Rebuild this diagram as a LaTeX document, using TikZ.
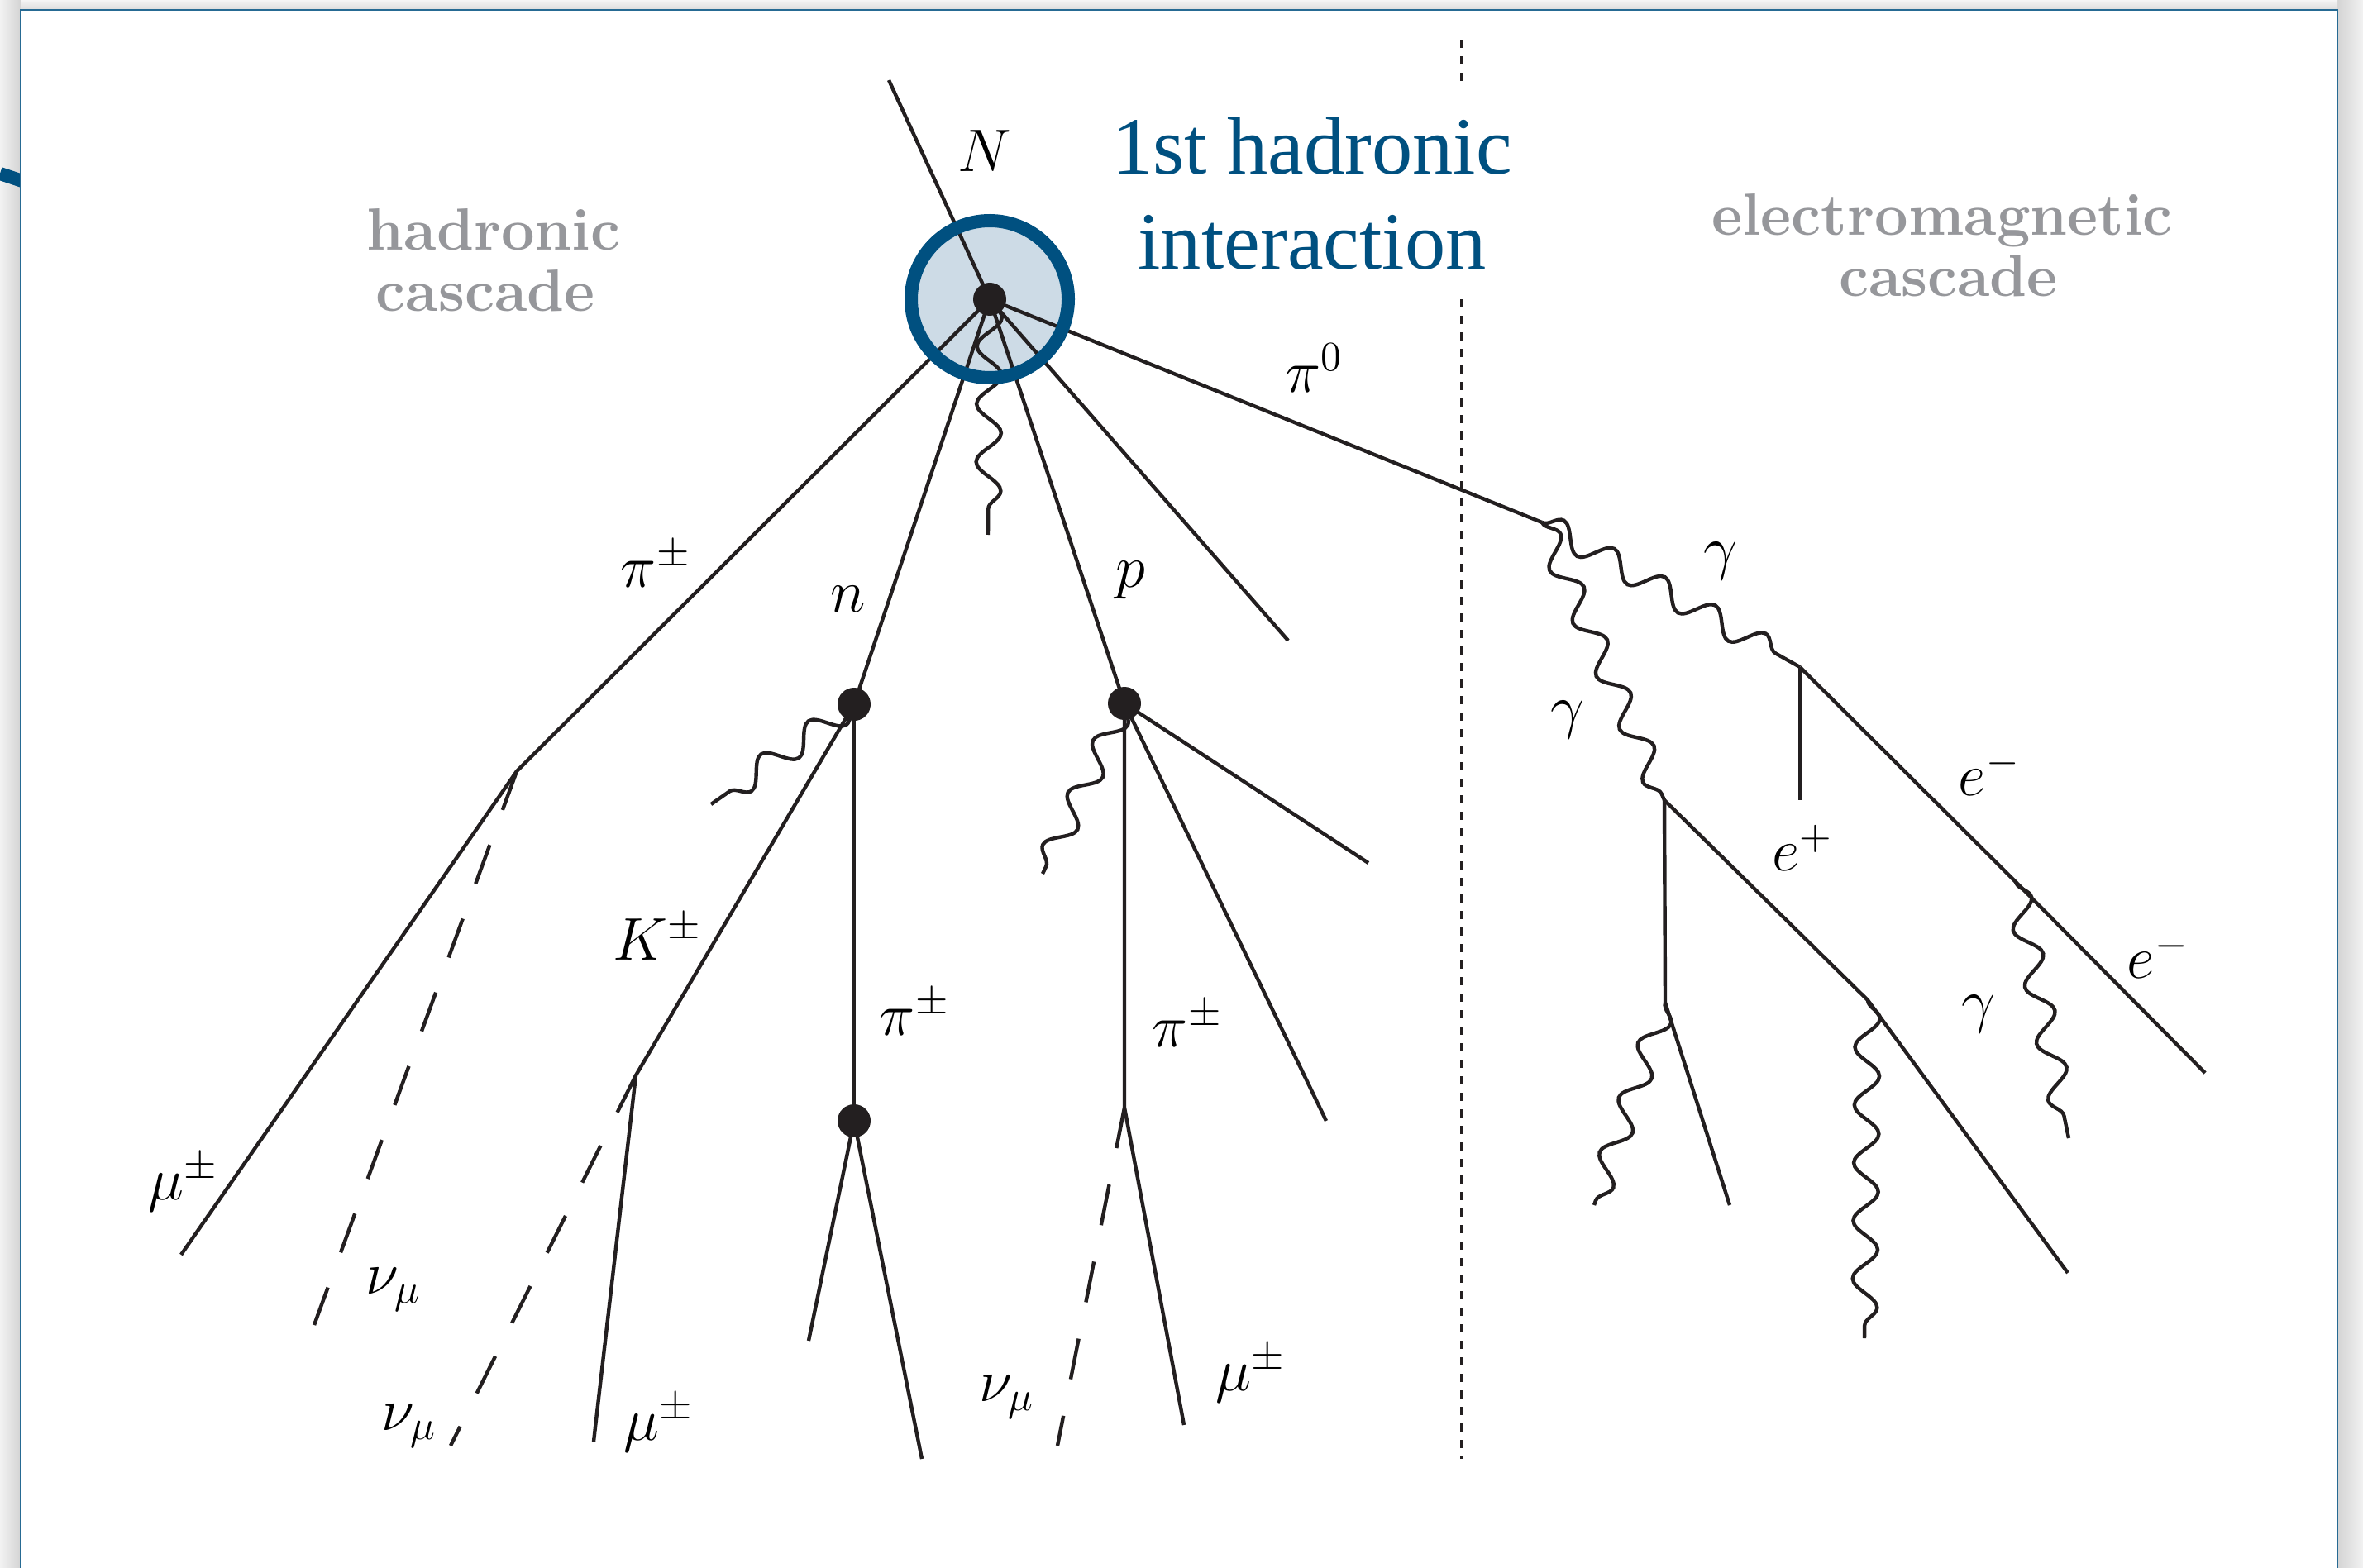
\documentclass[tikz,border=0pt]{standalone}
\usepackage{fontspec}
\newfontfamily\headfont{Liberation Serif}
\usepackage{tikz}
\usetikzlibrary{decorations.pathmorphing, positioning}
\definecolor{ifblue}{RGB}{0,80,128}
\definecolor{iflight}{RGB}{205,219,230}
\definecolor{ifgray}{RGB}{150,151,155}
\definecolor{ifink}{RGB}{35,31,32}
\tikzset{
  track/.style={draw=ifink, line width=1.25pt},
  nutrack/.style={track, dash pattern=on 0.5cm off 0.45cm},
  photon/.style={track, decorate, decoration={snake, segment length=0.7cm, amplitude=0.15cm}},
  blob/.style={circle, fill=ifink, inner sep=0pt, minimum size=0.4cm},
  lbl/.style={font=\fontsize{21}{25}\selectfont, inner sep=1pt},
  region/.style={align=center, text=ifgray, font=\fontsize{20.5}{21}\selectfont\bfseries},
  head/.style={align=center, text=ifblue, font=\headfont\fontsize{28}{32.7}\selectfont},
  divider/.style={draw=ifink, line width=1.1pt, dash pattern=on 0.1cm off 0.1cm},
}
\begin{document}
\begin{tikzpicture}
  % page, shadow and frame
  \useasboundingbox (0,0) rectangle (28.58,-18.97);
  \shade[left color=black!5, right color=black!17] (0,0) rectangle (0.25,-18.97);
  \shade[left color=black!17, right color=black!5] (28.27,0) rectangle (28.58,-18.97);
  \shade[top color=black!4, bottom color=black!14] (0.25,0) rectangle (28.27,-0.12);
  \draw[ifblue, line width=0.16cm] (0,-2.10) -- (0.3,-2.2);
  \fill[white] (0.25,-0.12) rectangle (28.27,-19.2);
  \draw[ifblue!85, line width=0.6pt] (0.25,-19.2) -- (0.25,-0.12) -- (28.27,-0.12) -- (28.27,-19.2);

  % vertices
  \coordinate (nin) at (10.75,-0.97);
  \coordinate (vtx) at (11.97,-3.62);
  \coordinate (pikink) at (6.25,-9.33);
  \coordinate (ndec) at (10.33,-8.52);
  \coordinate (pdec) at (13.60,-8.51);
  \coordinate (kkink) at (7.69,-13.01);
  \coordinate (pidec) at (10.33,-13.56);
  \coordinate (ppikink) at (13.60,-13.40);
  \coordinate (pizero) at (18.65,-6.32);
  \coordinate (conv1) at (20.13,-9.68);
  \coordinate (conv2) at (21.77,-8.07);
  \coordinate (brems1) at (24.38,-10.67);
  \coordinate (brems2) at (20.14,-12.13);
  \coordinate (brems3) at (22.59,-12.10);
  % free ends
  \coordinate (mu1) at (2.19,-15.18);
  \coordinate (nu1) at (3.80,-16.03);
  \coordinate (mu2) at (7.18,-17.44);
  \coordinate (nu2) at (5.45,-17.49);
  \coordinate (pia) at (9.78,-16.22);
  \coordinate (pib) at (11.15,-17.65);
  \coordinate (mu3) at (14.32,-17.24);
  \coordinate (nu3) at (12.79,-17.49);
  \coordinate (hadr) at (15.58,-7.75);
  \coordinate (pp1) at (16.55,-10.44);
  \coordinate (pp2) at (16.04,-13.56);
  \coordinate (gn) at (8.60,-9.73);
  \coordinate (gp) at (12.61,-10.57);
  \coordinate (gv) at (11.95,-6.47);
  \coordinate (epos) at (21.77,-9.68);
  \coordinate (eend) at (26.67,-12.98);
  \coordinate (gb1) at (25.02,-13.77);
  \coordinate (gb2) at (19.28,-14.58);
  \coordinate (eb2) at (20.92,-14.58);
  \coordinate (gb3) at (22.55,-16.19);
  \coordinate (eb3) at (25.01,-15.40);
  \coordinate (divA) at (17.68,-0.48);
  \coordinate (divB) at (17.68,-1.00);
  \coordinate (divC) at (17.68,-3.62);
  \coordinate (divD) at (17.68,-17.65);

  \node[circle, fill=iflight, minimum size=1.9cm, inner sep=0pt] (core) at (vtx) {};

  % hadronic part
  \draw[track] (nin) -- (vtx);
  \draw[track] (vtx) -- (pikink) -- (mu1);
  \draw[nutrack] (pikink) -- (nu1);
  \draw[track] (vtx) -- (ndec) -- (kkink) -- (mu2);
  \draw[nutrack] (kkink) -- (nu2);
  \draw[track] (ndec) -- (pidec);
  \draw[track] (pia) -- (pidec) -- (pib);
  \draw[track] (vtx) -- (pdec) -- (ppikink) -- (mu3);
  \draw[nutrack] (ppikink) -- (nu3);
  \draw[track] (pp1) -- (pdec) -- (pp2);
  \draw[track] (vtx) -- (hadr);
  \draw[photon] (vtx) -- (gv);
  \draw[photon] (ndec) -- (gn);
  \draw[photon] (pdec) -- (gp);

  % electromagnetic part
  \draw[track] (vtx) -- (pizero);
  \draw[photon] (pizero) -- (conv1);
  \draw[photon] (pizero) -- (conv2);
  \draw[track] (conv2) -- (epos);
  \draw[track] (conv2) -- (brems1) -- (eend);
  \draw[photon] (brems1) -- (gb1);
  \draw[track] (conv1) -- (brems2) -- (eb2);
  \draw[photon] (brems2) -- (gb2);
  \draw[track] (conv1) -- (brems3) -- (eb3);
  \draw[photon] (brems3) -- (gb3);

  \draw[divider] (divA) -- (divB);
  \draw[divider] (divC) -- (divD);

  \node[circle, draw=ifblue, line width=0.16cm, minimum size=1.9cm, inner sep=0pt] (ring) at (vtx) {};
  \node[blob] (vdot) at (vtx) {};
  \node[blob] (ndot) at (ndec) {};
  \node[blob] (pdot) at (pdec) {};
  \node[blob] (pidot) at (pidec) {};

  % texts
  \node[head] (title) at (15.87,-2.34) {1st hadronic\\interaction};
  \node[region] (hadcas) at (5.97,-3.15) {hadronic\\\hspace*{-0.2cm}cascade};
  \node[region] (emcas) at (23.49,-2.97) {electromagnetic\\\hspace*{0.15cm}cascade};

  \node[lbl] (lN) at (11.91,-1.83) {$N$};
  \node[lbl] (lpi0) at (15.89,-4.45) {$\pi^0$};
  \node[lbl] (lpi1) at (7.93,-6.83) {$\pi^\pm$};
  \node[lbl] (ln) at (10.26,-7.25) {$n$};
  \node[lbl] (lp) at (13.67,-7.02) {$p$};
  \node[lbl] (lK) at (7.95,-11.34) {$K^\pm$};
  \node[lbl] (lpi2) at (11.06,-12.25) {$\pi^\pm$};
  \node[lbl] (lpi3) at (14.36,-12.39) {$\pi^\pm$};
  \node[lbl] (lmu1) at (2.22,-14.31) {$\mu^\pm$};
  \node[lbl] (lnu1) at (4.76,-15.60) {$\nu_\mu$};
  \node[lbl] (lnu2) at (4.95,-17.25) {$\nu_\mu$};
  \node[lbl] (lmu2) at (7.97,-17.22) {$\mu^\pm$};
  \node[lbl] (lnu3) at (12.18,-16.90) {$\nu_\mu$};
  \node[lbl] (lmu3) at (15.13,-16.62) {$\mu^\pm$};
  \node[lbl] (lg1) at (20.81,-6.79) {$\gamma$};
  \node[lbl] (lg2) at (18.96,-8.71) {$\gamma$};
  \node[lbl] (lep) at (21.80,-10.26) {$e^+$};
  \node[lbl] (lem1) at (24.06,-9.35) {$e^-$};
  \node[lbl] (lem2) at (26.10,-11.56) {$e^-$};
  \node[lbl] (lg3) at (23.93,-12.27) {$\gamma$};
\end{tikzpicture}
\end{document}
